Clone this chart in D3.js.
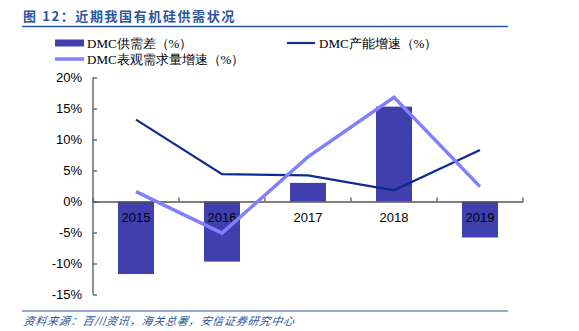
<!DOCTYPE html>
<html><head><meta charset="utf-8">
<script src="https://cdn.jsdelivr.net/npm/d3@7"></script>
<style>body{margin:0;background:#fff}svg{display:block}</style>
</head><body>
<svg id="c" width="579" height="331"></svg>
<script>
const categories = ["2015","2016","2017","2018","2019"];
const gapValues = [-11.7, -9.7, 3.0, 15.3, -5.8];
const capacityGrowth = [13.2, 4.4, 4.2, 1.8, 8.3];
const demandGrowth = [1.6, -5.1, 7.2, 16.8, 2.4];
const yTicks = [20, 15, 10, 5, 0, -5, -10, -15];
const seriesNames = ["DMC供需差（%）", "DMC产能增速（%）", "DMC表观需求量增速（%）"];
const titleText = "图 12：近期我国有机硅供需状况";
const sourceText = "资料来源：百川资讯，海关总署，安信证券研究中心";

const svg = d3.select("#c");
const blue = "#2a55a0";
const barColor = "#3f3fae";
const capColor = "#0d2b8e";
const demColor = "#8080ff";
const axisColor = "#555";

// Title
svg.append("text").attr("x", 23).attr("y", 20.5)
  .attr("font-family", "'Noto Sans CJK SC', sans-serif").attr("font-weight", "bold")
  .attr("font-size", 13).attr("fill", blue).attr("letter-spacing", 1.6).text(titleText);
svg.append("line").attr("x1", 22).attr("x2", 508).attr("y1", 26.5).attr("y2", 26.5)
  .attr("stroke", blue).attr("stroke-width", 1.5);

// Footer
svg.append("line").attr("x1", 22).attr("x2", 508).attr("y1", 311).attr("y2", 311)
  .attr("stroke", blue).attr("stroke-width", 1.2);
svg.append("text").attr("x", 23).attr("y", 325)
  .attr("font-family", "'Noto Sans CJK SC', sans-serif").attr("font-style", "italic")
  .attr("font-size", 11).attr("fill", blue).attr("letter-spacing", 0.8)
  .attr("transform", "skewX(-10)").attr("transform-origin", "23 325").text(sourceText);

const x = d3.scaleBand().domain(categories).range([93, 523]).paddingInner(0).paddingOuter(0);
const y = d3.scaleLinear().domain([-15, 20]).range([294.5, 77.5]);

// Bars
svg.append("g").selectAll("rect").data(categories).join("rect")
  .attr("x", (d) => x(d) + x.bandwidth()/2 - 18)
  .attr("width", 36)
  .attr("y", (d, i) => y(Math.max(0, gapValues[i])))
  .attr("height", (d, i) => Math.abs(y(gapValues[i]) - y(0)))
  .attr("fill", barColor);

// Y axis
const yAxis = d3.axisLeft(y).tickValues(yTicks).tickSize(-4).tickPadding(11)
  .tickFormat(d => d + "%");
const gy = svg.append("g").attr("transform", "translate(93,0)").call(yAxis);
gy.select(".domain").attr("stroke", axisColor).attr("stroke-width", 1.3)
  .attr("d", `M0,${y(20)}V${y(-15)}`);
gy.selectAll(".tick line").attr("stroke", axisColor).attr("stroke-width", 1.3);
gy.selectAll(".tick text").attr("font-family", "'Liberation Sans', Arial, sans-serif")
  .attr("font-size", 13).attr("fill", "#000");

// X axis at 0
const xAxis = d3.axisBottom(x).tickSize(0).tickFormat("");
const gx = svg.append("g").attr("transform", `translate(0,${y(0)})`).call(xAxis);
gx.select(".domain").attr("stroke", axisColor).attr("stroke-width", 1.3);
gx.selectAll(".tick").remove();
const bounds = categories.map(c => x(c) + x.bandwidth()).concat([x(categories[0])]);
gx.selectAll("line.tk").data(bounds).join("line").attr("class", "tk")
  .attr("x1", d => d).attr("x2", d => d).attr("y1", 0).attr("y2", -4)
  .attr("stroke", axisColor).attr("stroke-width", 1.3);
gx.selectAll("text.cat").data(categories).join("text").attr("class", "cat")
  .attr("x", d => x(d) + x.bandwidth()/2).attr("y", 20)
  .attr("text-anchor", "middle")
  .attr("font-family", "'Liberation Sans', Arial, sans-serif")
  .attr("font-size", 13).attr("fill", "#000").text(d => d);

// Lines
const cx = (d) => x(d) + x.bandwidth()/2;
const lineGen = (vals) => d3.line().x((d) => cx(d)).y((d, i) => y(vals[i]))(categories);
svg.append("path").attr("d", lineGen(capacityGrowth)).attr("fill", "none")
  .attr("stroke", capColor).attr("stroke-width", 2.2).attr("stroke-linejoin", "miter");
svg.append("path").attr("d", lineGen(demandGrowth)).attr("fill", "none")
  .attr("stroke", demColor).attr("stroke-width", 3.5).attr("stroke-linejoin", "miter");

// Legend
const lg = svg.append("g").attr("font-family", "'Liberation Serif', 'Times New Roman', serif")
  .attr("font-size", 13).attr("fill", "#000");
lg.append("rect").attr("x", 55).attr("y", 39.5).attr("width", 29).attr("height", 7).attr("fill", barColor);
lg.append("text").attr("x", 87).attr("y", 47.5).text(seriesNames[0]);
lg.append("line").attr("x1", 287).attr("x2", 315).attr("y1", 43).attr("y2", 43)
  .attr("stroke", capColor).attr("stroke-width", 2.2);
lg.append("text").attr("x", 319).attr("y", 47.5).text(seriesNames[1]);
lg.append("line").attr("x1", 55).attr("x2", 84).attr("y1", 59).attr("y2", 59)
  .attr("stroke", demColor).attr("stroke-width", 3.5);
lg.append("text").attr("x", 87).attr("y", 63.5).text(seriesNames[2]);
</script>
</body></html>
